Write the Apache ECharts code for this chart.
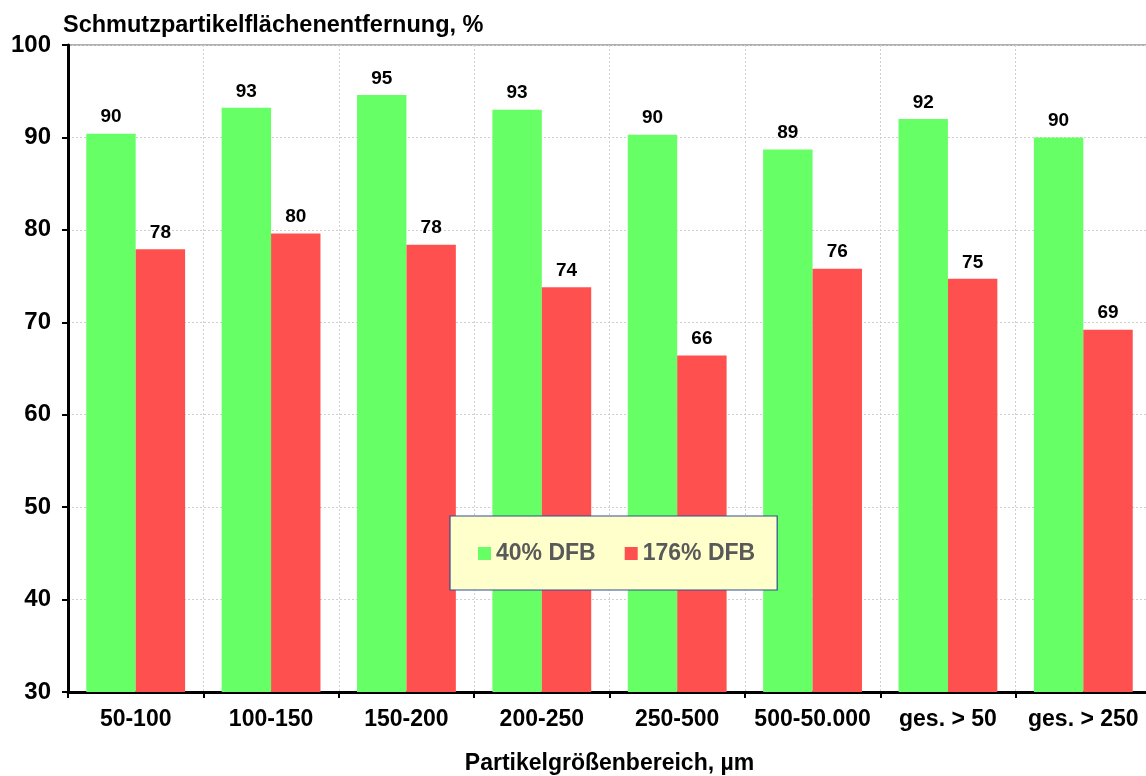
<!DOCTYPE html>
<html>
<head>
<meta charset="utf-8">
<script src="https://cdn.jsdelivr.net/npm/echarts@6/dist/echarts.min.js"></script>
<style>
  html, body { margin: 0; padding: 0; background: #fff; }
  #chart { width: 1146px; height: 776px; }
</style>
</head>
<body>
<div id="chart"></div>
<script>
// Particle size ranges (µm)
const categories = ['50-100', '100-150', '150-200', '200-250', '250-500', '500-50.000', 'ges. > 50', 'ges. > 250'];
// Dirt particle area removal, %
const dfb40 = [90.4, 93.2, 94.6, 93.0, 90.3, 88.7, 92.0, 90.0];
const dfb176 = [77.9, 79.6, 78.4, 73.8, 66.4, 75.8, 74.7, 69.2];
const seriesNames = ['40% DFB', '176% DFB'];
const yTicks = { min: 30, max: 100, interval: 10 };

const font = 'Liberation Sans, Arial, sans-serif';
const chart = echarts.init(document.getElementById('chart'), null, { renderer: 'canvas' });

const valueLabel = {
  show: true,
  position: 'top',
  distance: 7,
  color: '#000',
  fontFamily: font,
  fontWeight: 'bold',
  fontSize: 19,
  formatter: p => Math.round(p.value)
};

chart.setOption({
  backgroundColor: '#fff',
  animation: false,
  textStyle: { fontFamily: font },
  grid: { left: 68, width: 1083, top: 45, height: 647, containLabel: false, outerBoundsMode: 'none' },
  title: {
    text: 'Schmutzpartikelflächenentfernung, %',
    left: 58, top: 9,
    textStyle: { fontFamily: font, fontWeight: 'bold', fontSize: 23.5, color: '#000' }
  },
  legend: {
    data: seriesNames,
    left: 450, top: 516,
    padding: [26, 22, 25, 28],
    itemGap: 29,
    itemWidth: 13, itemHeight: 13,
    icon: 'rect',
    backgroundColor: '#FFFFCC',
    borderColor: '#2F4F8F',
    borderWidth: 1.2,
    borderRadius: 0,
    textStyle: { fontFamily: font, fontWeight: 'bold', fontSize: 23, color: '#595959' }
  },
  xAxis: {
    type: 'category',
    data: categories,
    name: 'Partikelgrößenbereich, µm',
    nameLocation: 'middle',
    nameGap: 60,
    nameTextStyle: { fontFamily: font, fontWeight: 'bold', fontSize: 23, color: '#000' },
    axisLine: { lineStyle: { color: '#000', width: 3 } },
    axisTick: { show: true, interval: 0, length: 6, lineStyle: { color: '#000', width: 2 } },
    axisLabel: { interval: 0, fontFamily: font, fontWeight: 'bold', fontSize: 23, color: '#000', margin: 16 },
    splitLine: { show: true, interval: 0, lineStyle: { color: '#cfcfcf', type: [2, 2], width: 1 } }
  },
  yAxis: {
    type: 'value',
    min: yTicks.min, max: yTicks.max, interval: yTicks.interval,
    axisLine: { show: true, lineStyle: { color: '#000', width: 3 } },
    axisTick: { show: true, length: 6, lineStyle: { color: '#000', width: 2 } },
    axisLabel: { fontFamily: font, fontWeight: 'bold', fontSize: 24, color: '#000', margin: 17 },
    splitLine: { show: true, lineStyle: { color: '#cfcfcf', type: [2, 2], width: 1 } }
  },
  series: [
    {
      name: seriesNames[0], type: 'bar', data: dfb40,
      itemStyle: { color: '#66FF66' },
      barGap: '0%', barCategoryGap: '27%',
      label: valueLabel
    },
    {
      name: seriesNames[1], type: 'bar', data: dfb176,
      itemStyle: { color: '#FF5050' },
      label: valueLabel
    }
  ],
  graphic: [
    {
      type: 'line', z: 0,
      shape: { x1: 68, y1: 45, x2: 1146, y2: 45 },
      style: { stroke: '#b0b0b0', lineWidth: 2 }
    }
  ]
});
</script>
</body>
</html>
